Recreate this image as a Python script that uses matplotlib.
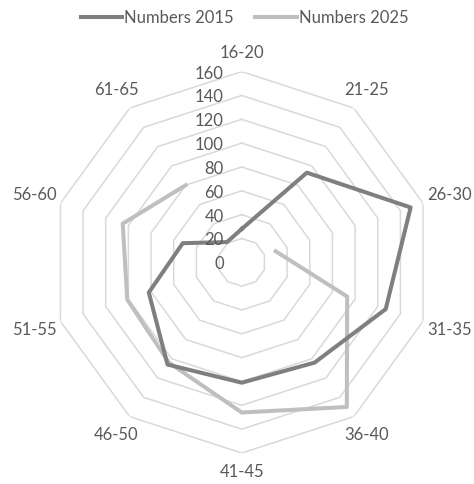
import numpy as np
import matplotlib.pyplot as plt

plt.rcParams['font.family'] = ['Lato', 'DejaVu Sans']

# age groups and head counts per survey year
ages = ['16-20', '21-25', '26-30', '31-35', '36-40',
        '41-45', '46-50', '51-55', '56-60', '61-65']
numbers_2015 = [28, 93, 149, 127, 104, 101, 106, 82, 52, 21]
numbers_2025 = [np.nan, np.nan, 30, 93, 150, 126, 104, 101, 105, 80]
rings = [0, 20, 40, 60, 80, 100, 120, 140, 160]

txt_col = '#595959'
grid_col = '#d9d9d9'
fs = 12

n = len(ages)
theta = np.arange(n) * 2 * np.pi / n
theta_c = np.append(theta, theta[0])

fig = plt.figure(figsize=(4.74, 4.84), dpi=100)
ax = fig.add_axes([0.1077, 0.064, 0.8046, 0.788], projection='polar')
ax.set_theta_zero_location('N')
ax.set_theta_direction(-1)
ax.set_ylim(0, rings[-1])
ax.grid(False)
ax.spines['polar'].set_visible(False)
ax.set_xticks([])
ax.set_yticks([])

# decagon grid
for r in rings[1:]:
    ax.plot(theta_c, [r] * (n + 1), color=grid_col, lw=1.1, zorder=1)

# value labels on the vertical axis
for r in rings:
    ax.annotate(str(r), xy=(0, r), xytext=(-18, -2), textcoords='offset pixels',
                ha='right', va='center', fontsize=fs, color=txt_col,
                annotation_clip=False, zorder=4)

# category labels round the outside
for t, lab in zip(theta, ages):
    rr = 176 + 8 * np.sin(t) ** 2
    ax.text(t, rr, lab, ha='center', va='center', fontsize=fs,
            color=txt_col, clip_on=False)

v15 = np.append(numbers_2015, numbers_2015[0])
v25 = np.append(numbers_2025, numbers_2025[0])
ax.plot(theta_c, v15, color='#7f7f7f', lw=2.9, label='Numbers 2015', zorder=3)
ax.plot(theta_c, v25, color='#bfbfbf', lw=2.9, label='Numbers 2025', zorder=2)

fig.legend(loc='upper center', bbox_to_anchor=(0.516, 1.01), ncol=2,
           frameon=False, fontsize=fs, labelcolor=txt_col,
           handlelength=2.5, handletextpad=0.1, columnspacing=1.3)

fig.savefig('out.png', dpi=100, facecolor='white')
